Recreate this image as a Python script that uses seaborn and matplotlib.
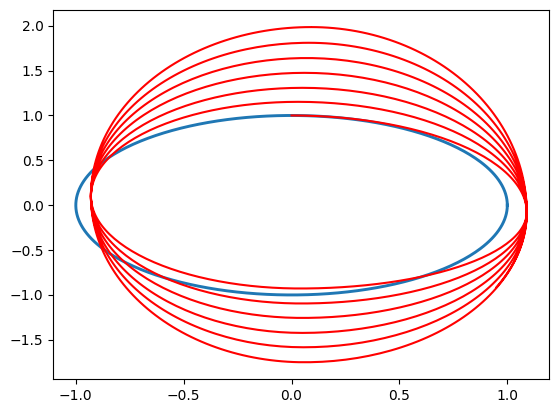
import numpy as np
import pandas as pd
import seaborn as sns
import matplotlib
matplotlib.use("Agg")
import matplotlib.pyplot as plt

# blue reference orbit: unit circle
circle_radius = 1.0

# red orbit: extreme points of every turn (clockwise)
top_x = [0.00, 0.03, 0.05, 0.06, 0.07, 0.08, 0.09]
top_y = [1.000, 1.152, 1.308, 1.475, 1.640, 1.810, 1.985]
bottom_x = [0.04, 0.045, 0.05, 0.05, 0.055, 0.06]
bottom_y = [-0.928, -1.095, -1.256, -1.423, -1.583, -1.750]
left_x, left_y = -0.93, 0.10
right_x, right_y = 1.09, -0.08
end_x, end_y = 0.95, -0.913


def quarter(p0, p1, kind, n=60, phi_max=np.pi / 2):
    """quarter ellipse between two neighbouring extremes"""
    phi = np.linspace(0, phi_max, n)
    (x0, y0), (x1, y1) = p0, p1
    if kind == "top-right":
        return x0 + (x1 - x0) * np.sin(phi), y1 + (y0 - y1) * np.cos(phi)
    if kind == "right-bottom":
        return x1 + (x0 - x1) * np.cos(phi), y0 - (y0 - y1) * np.sin(phi)
    if kind == "bottom-left":
        return x0 - (x0 - x1) * np.sin(phi), y1 - (y1 - y0) * np.cos(phi)
    # left-top
    return x1 - (x1 - x0) * np.cos(phi), y0 + (y1 - y0) * np.sin(phi)


xs, ys = [], []
R, L = (right_x, right_y), (left_x, left_y)
for k in range(len(top_y)):
    T = (top_x[k], top_y[k])
    qx, qy = quarter(T, R, "top-right")
    xs.append(qx); ys.append(qy)
    if k < len(bottom_y):
        B = (bottom_x[k], bottom_y[k])
        for a, b, kind in [(R, B, "right-bottom"), (B, L, "bottom-left")]:
            qx, qy = quarter(a, b, kind)
            xs.append(qx); ys.append(qy)
        nxt = (top_x[k + 1], top_y[k + 1])
        qx, qy = quarter(L, nxt, "left-top")
        xs.append(qx); ys.append(qy)
    else:
        # last partial descent ending at the read end point
        bx = bottom_x[-1]
        phi_end = np.arccos((end_x - bx) / (right_x - bx))
        by = right_y - (right_y - end_y) / np.sin(phi_end)
        qx, qy = quarter(R, (bx, by), "right-bottom", phi_max=phi_end)
        xs.append(qx); ys.append(qy)

red = pd.DataFrame({"x": np.concatenate(xs), "y": np.concatenate(ys)})

t = np.linspace(0, 2 * np.pi, 400)
blue = pd.DataFrame({"x": circle_radius * np.cos(t), "y": circle_radius * np.sin(t)})

fig = plt.figure(figsize=(5.59, 4.13), dpi=100)
ax = fig.add_axes([0.0953, 0.0823, 0.8873, 0.8927])

sns.lineplot(data=blue, x="x", y="y", sort=False, estimator=None,
             color="#1f77b4", linewidth=2.1, ax=ax)
sns.lineplot(data=red, x="x", y="y", sort=False, estimator=None,
             color="red", linewidth=1.5, ax=ax)

ax.set_xlabel("")
ax.set_ylabel("")

fig.savefig("out.png", dpi=100)
